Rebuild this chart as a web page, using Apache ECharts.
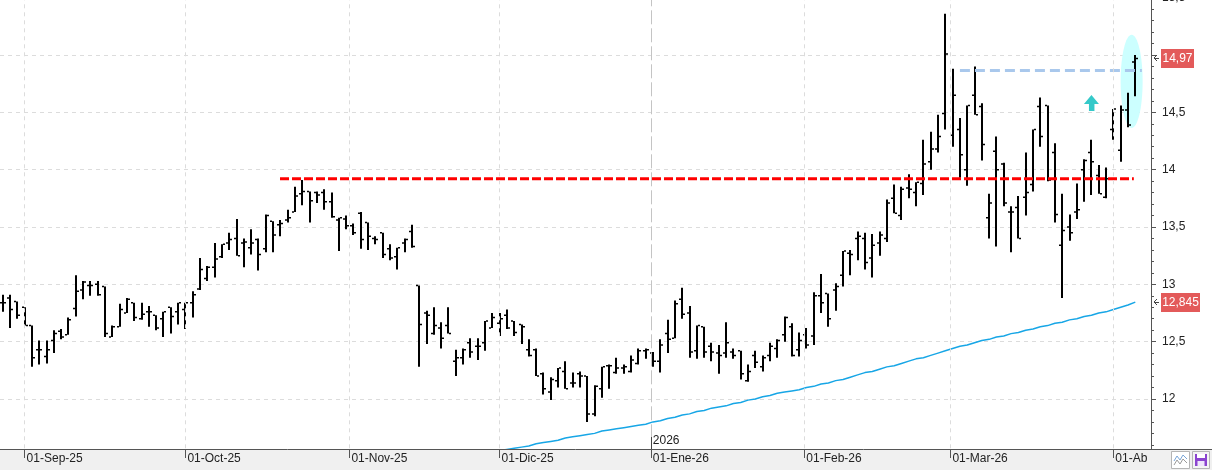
<!DOCTYPE html>
<html>
<head>
<meta charset="utf-8">
<script src="https://cdn.jsdelivr.net/npm/echarts@6/dist/echarts.min.js"></script>
<style>
html, body { margin: 0; padding: 0; background: #fff; }
#chart { width: 1212px; height: 470px; }
</style>
</head>
<body>
<div id="chart"></div>
<script>
// barras diarias OHLC (indice = sesion desde 27-Ago-25)
var openP = [12.84,12.88,12.85,12.80,12.64,12.43,12.37,12.51,12.59,12.56,12.79,12.95,12.99,13.00,12.98,12.54,12.63,12.75,12.84,12.70,
  12.76,12.73,12.70,12.80,12.76,12.78,12.84,12.96,13.05,13.15,13.24,13.36,13.40,13.36,13.32,13.39,13.31,13.55,13.52,13.56,
  13.63,13.79,13.81,13.80,13.80,13.72,13.56,13.57,13.51,13.62,13.54,13.40,13.45,13.31,13.24,13.36,13.46,12.99,12.75,12.57,
  12.62,12.64,12.33,12.36,12.49,12.46,12.49,12.62,12.66,12.73,12.68,12.65,12.43,12.43,12.22,12.06,12.16,12.24,12.14,12.22,
  12.20,11.87,12.09,12.29,12.23,12.27,12.24,12.31,12.42,12.40,12.33,12.57,12.53,12.87,12.75,12.42,12.63,12.46,12.40,12.40,
  12.41,12.42,12.16,12.38,12.28,12.38,12.44,12.56,12.63,12.43,12.56,12.55,12.90,12.92,12.95,13.08,13.27,13.40,13.40,13.23,
  13.36,13.40,13.75,13.60,13.84,13.80,13.88,14.07,14.18,14.49,14.30,14.35,14.00,14.65,14.55,13.58,14.16,14.05,13.63,13.67,
  13.76,13.87,14.55,14.56,14.15,13.34,13.50,13.63,14.00,14.15,13.95,13.76,14.35,14.17,14.52,14.94];
var highP = [12.91,12.91,12.85,12.80,12.64,12.51,12.51,12.60,12.61,12.71,13.08,13.03,13.03,13.03,12.98,12.64,12.83,12.88,12.84,12.84,
  12.81,12.73,12.76,12.80,12.84,12.84,12.94,13.23,13.16,13.36,13.35,13.45,13.57,13.40,13.48,13.40,13.61,13.55,13.56,13.65,
  13.85,13.91,13.81,13.81,13.83,13.80,13.58,13.60,13.53,13.63,13.54,13.42,13.45,13.35,13.32,13.40,13.52,12.99,12.77,12.80,
  12.67,12.80,12.43,12.44,12.53,12.53,12.68,12.75,12.75,12.78,12.68,12.65,12.52,12.44,12.23,12.19,12.27,12.33,12.23,12.24,
  12.20,12.12,12.28,12.30,12.36,12.30,12.38,12.44,12.44,12.41,12.52,12.69,12.86,12.97,12.81,12.64,12.63,12.49,12.47,12.67,
  12.44,12.42,12.30,12.42,12.38,12.49,12.52,12.72,12.66,12.58,12.62,12.93,13.09,12.92,13.01,13.29,13.30,13.46,13.45,13.44,
  13.46,13.74,13.87,13.85,13.96,13.89,14.26,14.33,14.48,15.36,14.88,14.45,14.56,14.90,14.58,13.79,14.29,14.06,13.68,13.77,
  14.15,14.35,14.63,14.56,14.23,13.79,13.61,13.88,14.09,14.26,14.04,14.02,14.53,14.56,14.67,15.00];
var lowP = [12.76,12.62,12.70,12.64,12.28,12.30,12.31,12.40,12.52,12.56,12.72,12.87,12.90,12.90,12.54,12.54,12.63,12.75,12.68,12.69,
  12.63,12.60,12.54,12.57,12.65,12.61,12.71,12.95,13.03,13.06,13.23,13.30,13.25,13.15,13.26,13.12,13.28,13.28,13.42,13.54,
  13.63,13.69,13.54,13.71,13.65,13.58,13.29,13.48,13.43,13.31,13.30,13.35,13.23,13.21,13.13,13.28,13.32,12.28,12.48,12.56,
  12.44,12.57,12.20,12.30,12.36,12.34,12.42,12.62,12.55,12.61,12.55,12.48,12.37,12.20,12.04,11.99,12.10,12.09,12.10,12.10,
  11.80,11.85,12.01,12.09,12.22,12.22,12.23,12.30,12.35,12.28,12.23,12.40,12.53,12.70,12.36,12.35,12.36,12.33,12.22,12.36,
  12.35,12.17,12.15,12.27,12.24,12.33,12.36,12.50,12.37,12.37,12.44,12.47,12.75,12.63,12.77,12.98,13.08,13.21,13.13,13.06,
  13.25,13.37,13.62,13.56,13.75,13.68,13.78,14.00,14.15,14.35,14.20,13.93,13.86,14.48,14.08,13.40,13.33,13.68,13.28,13.40,
  13.60,13.81,14.20,13.90,13.54,12.88,13.38,13.57,13.72,13.78,13.79,13.75,14.26,14.07,14.37,14.64];
var closeP = [12.84,12.78,12.73,12.64,12.36,12.43,12.43,12.57,12.54,12.69,12.94,13.02,12.99,12.91,12.57,12.63,12.78,12.87,12.71,12.74,
  12.76,12.62,12.76,12.72,12.84,12.84,12.91,13.13,13.15,13.22,13.35,13.39,13.25,13.37,13.36,13.26,13.60,13.43,13.53,13.58,
  13.77,13.81,13.73,13.78,13.72,13.59,13.58,13.51,13.45,13.39,13.42,13.39,13.26,13.23,13.32,13.39,13.33,12.65,12.73,12.64,
  12.53,12.57,12.36,12.43,12.41,12.46,12.68,12.71,12.70,12.62,12.58,12.63,12.38,12.20,12.09,12.17,12.27,12.09,12.14,12.20,
  11.87,12.11,12.28,12.29,12.27,12.28,12.34,12.42,12.43,12.33,12.47,12.52,12.83,12.74,12.41,12.64,12.41,12.41,12.38,12.49,
  12.38,12.22,12.24,12.32,12.36,12.46,12.51,12.71,12.38,12.51,12.47,12.90,12.84,12.70,12.98,13.29,13.26,13.42,13.19,13.34,
  13.43,13.71,13.62,13.83,13.83,13.89,14.05,14.18,14.29,15.01,14.65,14.13,14.56,14.48,14.22,13.71,14.00,13.71,13.63,13.40,
  13.80,14.35,14.29,13.91,13.61,13.47,13.45,13.65,14.08,14.07,13.79,13.92,14.53,14.52,14.39,14.97];

// media movil (desde la sesion 66)
var maStart = 66;
var maValues = [11.53,11.54,11.55,11.56,11.57,11.58,11.59,11.61,11.62,11.63,11.64,11.66,11.67,11.68,11.69,11.70,11.72,11.73,11.74,11.75,
  11.76,11.77,11.78,11.80,11.81,11.83,11.84,11.86,11.87,11.89,11.90,11.92,11.93,11.94,11.96,11.97,11.99,12.00,12.02,12.03,
  12.05,12.06,12.07,12.08,12.10,12.11,12.13,12.14,12.16,12.17,12.19,12.21,12.23,12.24,12.26,12.28,12.29,12.31,12.33,12.35,
  12.36,12.38,12.40,12.42,12.44,12.46,12.47,12.49,12.51,12.52,12.54,12.55,12.57,12.58,12.60,12.61,12.63,12.64,12.66,12.67,
  12.69,12.70,12.72,12.73,12.75,12.76,12.78,12.80,12.82,12.845];

// eje de fechas
var monthPos = [3, 25, 47.45, 68, 88.7, 109.7, 129.7, 152];
var monthLabels = ['01-Sep-25', '01-Oct-25', '01-Nov-25', '01-Dic-25', '01-Ene-26', '01-Feb-26', '01-Mar-26', '01-Ab'];
var yearPos = 88.7;
var yearLabel = '2026';

// lineas dibujadas
var redLineX = [37.95, 154.8];
var redLineY = 13.92;
var blueLineX = [131, 155.9];
var blueLineY = 14.866;
var lastPrice = 14.97;
var lastMA = 12.845;

var xMin = -0.37, xMax = 157.15;

var ohlc = [];
for (var i = 0; i < openP.length; i++) {
    ohlc.push([i, openP[i], highP[i], lowP[i], closeP[i]]);
}
var maData = [];
for (var j = 0; j < maValues.length; j++) {
    maData.push([maStart + j, maValues[j]]);
}

function renderBar(params, api) {
    var idx = api.value(0);
    var o = api.coord([idx, api.value(1)]);
    var h = api.coord([idx, api.value(2)]);
    var l = api.coord([idx, api.value(3)]);
    var c = api.coord([idx, api.value(4)]);
    var x = Math.round(h[0]);
    var st = { fill: '#000' };
    return {
        type: 'group',
        children: [
            { type: 'rect', shape: { x: x - 1, y: h[1], width: 2, height: Math.max(l[1] - h[1], 1) }, style: st },
            { type: 'rect', shape: { x: x - 3, y: o[1] - 0.75, width: 2, height: 1.5 }, style: st },
            { type: 'rect', shape: { x: x + 1, y: c[1] - 0.75, width: 2, height: 1.5 }, style: st }
        ]
    };
}

var chart = echarts.init(document.getElementById('chart'));
var FONT = 'Liberation Sans, Arial, sans-serif';

var option = {
    animation: false,
    backgroundColor: '#fff',
    grid: [
        { left: 0, right: 61, top: -2.3, bottom: 13.7, containLabel: false, outerBoundsMode: 'none' },
        { left: 0, right: 61, top: 0, bottom: 21, containLabel: false, outerBoundsMode: 'none' }
    ],
    xAxis: [
        { type: 'value', gridIndex: 0, min: xMin, max: xMax, show: false },
        {
            type: 'value', gridIndex: 1, min: xMin, max: xMax, z: 10,
            axisLine: { show: true, onZero: false, lineStyle: { color: '#555', width: 1 } },
            axisTick: { show: true, customValues: monthPos, length: 9, lineStyle: { color: '#555' } },
            axisLabel: {
                customValues: monthPos, align: 'left', margin: 4, padding: [0, 0, 0, 2],
                color: '#222', fontSize: 12, fontFamily: FONT,
                formatter: function (v) {
                    for (var k = 0; k < monthPos.length; k++) {
                        if (Math.abs(monthPos[k] - v) < 0.01) return monthLabels[k];
                    }
                    return '';
                }
            },
            splitLine: { show: false }
        }
    ],
    yAxis: [
        {
            type: 'value', gridIndex: 0, position: 'right', min: 11.5, max: 15.5, interval: 0.5,
            axisLine: { show: true, onZero: false, lineStyle: { color: '#555' } },
            axisTick: { show: true, length: 5, lineStyle: { color: '#555' } },
            minorTick: { show: true, splitNumber: 5, length: 3, lineStyle: { color: '#555' } },
            axisLabel: {
                margin: 11, color: '#222', fontSize: 12, fontFamily: FONT,
                formatter: function (v) { return String(v).replace('.', ','); }
            },
            splitLine: { show: true, lineStyle: { color: '#dcdcdc', type: [4, 4] } }
        },
        { type: 'value', gridIndex: 1, min: 0, max: 1, show: false }
    ],
    series: [
        {
            name: 'rejilla', type: 'line', data: [], z: 1, silent: true,
            markLine: {
                silent: true, symbol: ['none', 'none'], label: { show: false },
                lineStyle: { color: '#dcdcdc', type: [4, 4], width: 1 },
                data: monthPos.map(function (p) {
                    if (p === yearPos) {
                        return { xAxis: p, lineStyle: { color: '#c4c4c4', type: [14, 4], width: 1 } };
                    }
                    return { xAxis: p };
                })
            }
        },
        {
            name: 'media', type: 'line', data: maData, showSymbol: false, symbol: 'none', z: 3,
            lineStyle: { color: '#17a6e6', width: 1.5 }
        },
        {
            name: 'ohlc', type: 'custom', data: ohlc, renderItem: renderBar, z: 3,
            encode: { x: 0, y: [1, 2, 3, 4] }
        },
        {
            name: 'soporte', type: 'line', symbol: 'none', z: 4,
            data: [[redLineX[0], redLineY], [redLineX[1], redLineY]],
            lineStyle: { color: '#ff0000', width: 3, type: [9, 3] }
        },
        {
            name: 'maximo', type: 'line', symbol: 'none', z: 4,
            data: [[blueLineX[0], blueLineY], [blueLineX[1], blueLineY]],
            lineStyle: { color: '#a9c8ec', width: 3, type: [10, 5] }
        }
    ]
};

chart.setOption(option);

function px(x, y) {
    return chart.convertToPixel({ xAxisIndex: 0, yAxisIndex: 0 }, [x, y]);
}

function priceTag(value, width) {
    var y = Math.round(px(0, value)[1]);
    return [
        { type: 'polyline', z: 20, shape: { points: [[1157, y - 3], [1154, y], [1157, y + 3]] }, style: { stroke: '#444', lineWidth: 1, fill: null } },
        { type: 'line', z: 20, shape: { x1: 1154, y1: y + 0.5, x2: 1159, y2: y + 0.5 }, style: { stroke: '#444', lineWidth: 1 } },
        { type: 'rect', z: 20, shape: { x: 1161, y: y - 9, width: width, height: 19 }, style: { fill: '#e35a5a' } },
        {
            type: 'text', z: 21, x: 1161 + width / 2, y: y + 0.5,
            style: { text: String(value).replace('.', ','), fill: '#fff', font: '12px ' + FONT, align: 'center', verticalAlign: 'middle' }
        }
    ];
}

var ec = px(154.5, 14.77);
var eTop = px(154.5, 14.77 + 0.406);
var ar = px(149, 14.651);
var yp = px(yearPos, 12)[0];

var graphics = [
    { type: 'ellipse', z: 1, shape: { cx: ec[0], cy: ec[1], rx: 11, ry: ec[1] - eTop[1] }, style: { fill: '#ccffff' } },
    {
        type: 'polygon', z: 10,
        shape: { points: [[ar[0], ar[1]], [ar[0] + 7.5, ar[1] + 9], [ar[0] + 3, ar[1] + 9], [ar[0] + 3, ar[1] + 16], [ar[0] - 2.5, ar[1] + 16], [ar[0] - 2.5, ar[1] + 9], [ar[0] - 7.5, ar[1] + 9]] },
        style: { fill: '#35c9c9' }
    },
    { type: 'rect', z: 5, shape: { x: 0, y: 449, width: 1212, height: 21 }, style: { fill: '#f0f0f0' } },
    { type: 'line', z: 11, shape: { x1: 1151, y1: 449.5, x2: 1212, y2: 449.5 }, style: { stroke: '#555', lineWidth: 1 } },
    { type: 'line', z: 11, shape: { x1: Math.round(yp) + 0.5, y1: 437, x2: Math.round(yp) + 0.5, y2: 449 }, style: { stroke: '#444', lineWidth: 1 } },
    { type: 'text', z: 11, x: yp + 2, y: 441, style: { text: yearLabel, fill: '#222', font: '12px ' + FONT, verticalAlign: 'middle' } },
    // botones inferiores
    { type: 'rect', z: 12, shape: { x: 1171.5, y: 451.5, width: 18, height: 17 }, style: { fill: '#fff', stroke: '#b5b5b5' } },
    { type: 'polyline', z: 13, shape: { points: [[1174, 461], [1177, 456], [1180, 460], [1183, 455], [1187, 459]] }, style: { stroke: '#7aa6d8', fill: null, lineWidth: 1 } },
    { type: 'polyline', z: 13, shape: { points: [[1174, 465], [1177, 460], [1180, 464], [1183, 459], [1187, 463]] }, style: { stroke: '#9a9a9a', fill: null, lineWidth: 1 } },
    { type: 'rect', z: 12, shape: { x: 1192.5, y: 451.5, width: 17, height: 17 }, style: { fill: '#f4f4f4', stroke: '#b5b5b5' } },
    { type: 'rect', z: 13, shape: { x: 1195, y: 454, width: 12, height: 12 }, style: { fill: '#8b44cf' } },
    { type: 'rect', z: 14, shape: { x: 1197, y: 454, width: 8, height: 4 }, style: { fill: '#fff' } },
    { type: 'rect', z: 14, shape: { x: 1197.5, y: 461, width: 7, height: 5 }, style: { fill: '#efe6fb' } }
].concat(priceTag(lastPrice, 33), priceTag(lastMA, 39));

chart.setOption({ graphic: graphics });
</script>
</body>
</html>
